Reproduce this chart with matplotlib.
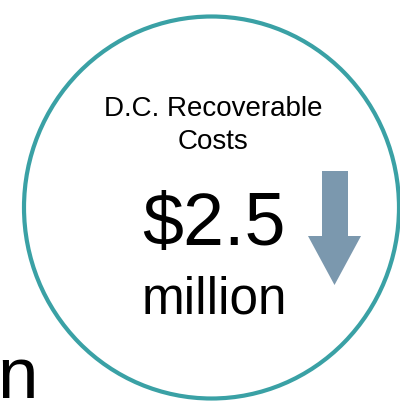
import matplotlib
matplotlib.use('Agg')
import matplotlib.pyplot as plt
from matplotlib.patches import Ellipse, Polygon

# figure text / values
title_lines = ['D.C. Recoverable', 'Costs']
amount = 2.5
unit = 'million'
cut_word = 'n'

RING = '#3aa1a5'
ARROW = '#7b98ae'

W, H = 400, 402
fig = plt.figure(figsize=(W / 100, H / 100), dpi=100)
ax = fig.add_axes([0, 0, 1, 1])
ax.set_xlim(0, W)
ax.set_ylim(H, 0)
ax.axis('off')

plt.rcParams['font.family'] = ['Liberation Sans', 'DejaVu Sans']

# ring
ax.add_patch(Ellipse((211.5, 208.5), 375, 382, fill=False,
                     edgecolor=RING, linewidth=3.0))

# headings
ax.text(213, 116, title_lines[0], fontsize=20, ha='center', va='baseline')
ax.text(213, 149, title_lines[1], fontsize=20, ha='center', va='baseline')

# amount
ax.text(213.5, 245, f'${amount:g}', fontsize=53, ha='center', va='baseline')
ax.text(214, 314, unit, fontsize=37, ha='center', va='baseline')

# down arrow
arrow = [(322, 172), (348, 172), (348, 237), (361, 237),
         (334.5, 286), (308, 237), (322, 237)]
ax.add_patch(Polygon(arrow, closed=True, facecolor=ARROW, edgecolor='none'))

# clipped word from neighbouring panel
ax.text(-3, 398, cut_word, fontsize=52.5, ha='left', va='baseline')

plt.savefig('out.png', dpi=100)
plt.close()
